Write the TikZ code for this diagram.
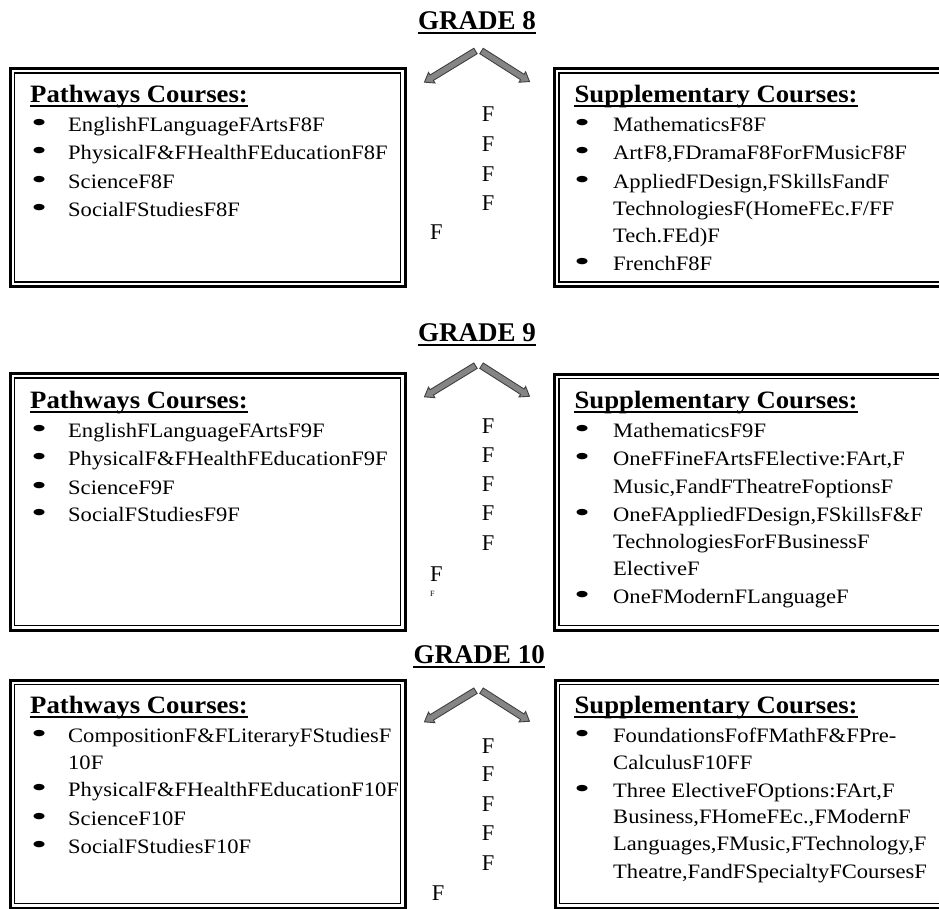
\documentclass[tikz,border=0pt]{standalone}
\usepackage{fontspec}
\setmainfont{Liberation Serif}
\newfontfamily\bodyff[FakeStretch=1.1]{Liberation Serif}
\newfontfamily\headff[FakeStretch=1.07]{Liberation Serif}
\newfontfamily\bulff[FakeStretch=1.7]{Liberation Serif}
\newcommand\bodyfnt{\bodyff\fontsize{20.5}{24}\selectfont}
\newcommand\bulfnt{\bulff\fontsize{27}{30}\selectfont}
\newcommand\headfnt{\headff\bfseries\fontsize{25}{30}\selectfont}
\newcommand\titlefnt{\bfseries\fontsize{27}{32}\selectfont}
\newcommand\fmarkfnt{\fontsize{22.5}{27}\selectfont}
\newcommand\tinyfmarkfnt{\fontsize{8}{10}\selectfont}
\begin{document}
\begin{tikzpicture}[x=1pt,y=-1pt,
  gtitle/.style={font=\titlefnt, anchor=base west, inner sep=0},
  ghead/.style={font=\headfnt, anchor=base west, inner sep=0},
  gitem/.style={font=\bodyfnt, anchor=base west, inner sep=0},
  gbul/.style={font=\bulfnt, anchor=base west, inner sep=0},
  fmark/.style={font=\fmarkfnt, anchor=base west, inner sep=0},
  tinyfmark/.style={font=\tinyfmarkfnt, anchor=base west, inner sep=0},
  uline/.style={line width=2pt},
  outerframe/.style={line width=3pt},
  innerframe/.style={line width=1.4pt},
  arrowbody/.style={draw=black!75, fill=black!48, line width=0.9pt, line join=miter},
  blockarr/.pic={\path[arrowbody] (0,-3.2) -- (#1-8.5,-3.2) -- (#1-8.5,-6.2) -- (#1,0) -- (#1-8.5,6.2) -- (#1-8.5,3.2) -- (0,3.2) -- cycle;}
]
\useasboundingbox (0,0) rectangle (939,909);
\clip (0,0) rectangle (939,909);

% ---------------- GRADE 8 ----------------
\node[gtitle] (t8) at (418,30) {GRADE 8};
\draw[uline] ([yshift=-3.5pt]t8.base west) -- ([yshift=-3.5pt]t8.base east);
\pic[rotate=211.4] (a8l) at (475.5,51) {blockarr=59.8};
\pic[rotate=-32.5] (a8r) at (481.5,51) {blockarr=56.9};

\draw[outerframe] (10,68.5) rectangle (405,286.5);
\draw[innerframe] (14.5,73) rectangle (400.5,282);
\draw[outerframe] (554.5,68.5) rectangle (960,286.5);
\draw[innerframe] (559,73) rectangle (960,282);

\node[ghead] (h8l) at (30,102.7) {Pathways Courses:};
\draw[uline] ([yshift=-3.5pt]h8l.base west) -- ([yshift=-3.5pt]h8l.base east);
\node[gbul] (b8l1) at (31,131.7) {•};
\node[gitem] (i8l1) at (68,131.7) {EnglishFLanguageFArtsF8F};
\node[gbul] (b8l2) at (31,160) {•};
\node[gitem] (i8l2) at (68,160) {PhysicalF\&FHealthFEducationF8F};
\node[gbul] (b8l3) at (31,188.5) {•};
\node[gitem] (i8l3) at (68,188.5) {ScienceF8F};
\node[gbul] (b8l4) at (31,216.7) {•};
\node[gitem] (i8l4) at (68,216.7) {SocialFStudiesF8F};

\node[fmark] (f8a) at (430,240) {F};
\node[fmark] (f8b) at (481.7,121.7) {F};
\node[fmark] (f8c) at (481.7,151.7) {F};
\node[fmark] (f8d) at (481.7,181.2) {F};
\node[fmark] (f8e) at (481.7,210.7) {F};

\node[ghead] (h8r) at (574.3,102.7) {Supplementary Courses:};
\draw[uline] ([yshift=-3.5pt]h8r.base west) -- ([yshift=-3.5pt]h8r.base east);
\node[gbul] (b8r1) at (574,131.7) {•};
\node[gitem] (i8r1) at (613,131.7) {MathematicsF8F};
\node[gbul] (b8r2) at (574,160) {•};
\node[gitem] (i8r2) at (613,160) {ArtF8,FDramaF8ForFMusicF8F};
\node[gbul] (b8r3) at (574,188.3) {•};
\node[gitem] (i8r3) at (613,188.3) {AppliedFDesign,FSkillsFandF};
\node[gitem] (i8r4) at (613,216) {TechnologiesF(HomeFEc.F/FF};
\node[gitem] (i8r5) at (613,242.7) {Tech.FEd)F};
\node[gbul] (b8r6) at (574,270.7) {•};
\node[gitem] (i8r6) at (613,270.7) {FrenchF8F};

% ---------------- GRADE 9 ----------------
\node[gtitle] (t9) at (418,341.7) {GRADE 9};
\draw[uline] ([yshift=-3.5pt]t9.base west) -- ([yshift=-3.5pt]t9.base east);
\pic[rotate=211.4] (a9l) at (475.5,365.7) {blockarr=59.8};
\pic[rotate=-32.5] (a9r) at (481.5,365.7) {blockarr=56.9};

\draw[outerframe] (10,373.5) rectangle (405,630);
\draw[innerframe] (14.5,378) rectangle (400.5,625.5);
\draw[outerframe] (554.5,374) rectangle (960,630);
\draw[innerframe] (559,378.5) rectangle (960,625.5);

\node[ghead] (h9l) at (30,408.3) {Pathways Courses:};
\draw[uline] ([yshift=-3.5pt]h9l.base west) -- ([yshift=-3.5pt]h9l.base east);
\node[gbul] (b9l1) at (31,437.3) {•};
\node[gitem] (i9l1) at (68,437.3) {EnglishFLanguageFArtsF9F};
\node[gbul] (b9l2) at (31,465.7) {•};
\node[gitem] (i9l2) at (68,465.7) {PhysicalF\&FHealthFEducationF9F};
\node[gbul] (b9l3) at (31,494) {•};
\node[gitem] (i9l3) at (68,494) {ScienceF9F};
\node[gbul] (b9l4) at (31,521.7) {•};
\node[gitem] (i9l4) at (68,521.7) {SocialFStudiesF9F};

\node[fmark] (f9a) at (430,581.7) {F};
\node[tinyfmark] (f9s) at (430,596.7) {F};
\node[fmark] (f9b) at (481.7,433.3) {F};
\node[fmark] (f9c) at (481.7,462.7) {F};
\node[fmark] (f9d) at (481.7,491.7) {F};
\node[fmark] (f9e) at (481.7,520.7) {F};
\node[fmark] (f9f) at (481.7,550) {F};

\node[ghead] (h9r) at (574.3,408.3) {Supplementary Courses:};
\draw[uline] ([yshift=-3.5pt]h9r.base west) -- ([yshift=-3.5pt]h9r.base east);
\node[gbul] (b9r1) at (574,437.3) {•};
\node[gitem] (i9r1) at (613,437.3) {MathematicsF9F};
\node[gbul] (b9r2) at (574,465.7) {•};
\node[gitem] (i9r2) at (613,465.7) {OneFFineFArtsFElective:FArt,F};
\node[gitem] (i9r3) at (613,493.3) {Music,FandFTheatreFoptionsF};
\node[gbul] (b9r4) at (574,521.7) {•};
\node[gitem] (i9r4) at (613,521.7) {OneFAppliedFDesign,FSkillsF\&F};
\node[gitem] (i9r5) at (613,548.3) {TechnologiesForFBusinessF};
\node[gitem] (i9r6) at (613,575) {ElectiveF};
\node[gbul] (b9r7) at (574,603.3) {•};
\node[gitem] (i9r7) at (613,603.3) {OneFModernFLanguageF};

% ---------------- GRADE 10 ----------------
\node[gtitle] (t10) at (413.3,663.3) {GRADE 10};
\draw[uline] ([yshift=-3.5pt]t10.base west) -- ([yshift=-3.5pt]t10.base east);
\pic[rotate=211.4] (a10l) at (475.5,690.7) {blockarr=59.8};
\pic[rotate=-32.5] (a10r) at (481.5,690.7) {blockarr=56.9};

\draw[outerframe] (10,680) rectangle (405,908);
\draw[innerframe] (14.5,684.5) rectangle (400.5,903.5);
\draw[outerframe] (555,680) rectangle (960,908);
\draw[innerframe] (559.5,684.5) rectangle (960,903.5);

\node[ghead] (h10l) at (30,713.3) {Pathways Courses:};
\draw[uline] ([yshift=-3.5pt]h10l.base west) -- ([yshift=-3.5pt]h10l.base east);
\node[gbul] (b10l1) at (31,742.7) {•};
\node[gitem] (i10l1) at (68,742.7) {CompositionF\&FLiteraryFStudiesF};
\node[gitem] (i10l2) at (68,769) {10F};
\node[gbul] (b10l3) at (31,796.7) {•};
\node[gitem] (i10l3) at (68,796.7) {PhysicalF\&FHealthFEducationF10F};
\node[gbul] (b10l4) at (31,825) {•};
\node[gitem] (i10l4) at (68,825) {ScienceF10F};
\node[gbul] (b10l5) at (31,853.3) {•};
\node[gitem] (i10l5) at (68,853.3) {SocialFStudiesF10F};

\node[fmark] (f10a) at (431.7,900) {F};
\node[fmark] (f10b) at (481.7,753.3) {F};
\node[fmark] (f10c) at (481.7,781.7) {F};
\node[fmark] (f10d) at (481.7,811.7) {F};
\node[fmark] (f10e) at (481.7,840) {F};
\node[fmark] (f10f) at (481.7,870) {F};

\node[ghead] (h10r) at (574.3,713.3) {Supplementary Courses:};
\draw[uline] ([yshift=-3.5pt]h10r.base west) -- ([yshift=-3.5pt]h10r.base east);
\node[gbul] (b10r1) at (574,742.7) {•};
\node[gitem] (i10r1) at (613,742.7) {FoundationsFofFMathF\&FPre-};
\node[gitem] (i10r2) at (613,769) {CalculusF10FF};
\node[gbul] (b10r3) at (574,797.7) {•};
\node[gitem] (i10r3) at (613,797.7) {Three ElectiveFOptions:FArt,F};
\node[gitem] (i10r4) at (613,823.3) {Business,FHomeFEc.,FModernF};
\node[gitem] (i10r5) at (613,850.7) {Languages,FMusic,FTechnology,F};
\node[gitem] (i10r6) at (613,878.3) {Theatre,FandFSpecialtyFCoursesF};
\end{tikzpicture}
\end{document}
